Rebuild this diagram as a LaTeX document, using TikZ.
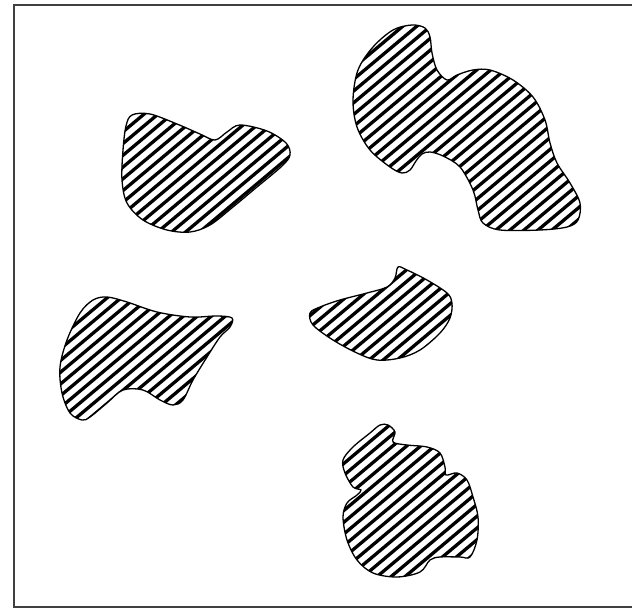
\documentclass[tikz,border=0pt]{standalone}
\begin{document}
\tikzset{
  blobedge/.style={draw=black, line width=1.3pt},
  hatchline/.style={line width=3.3pt, black},
  frame/.style={draw=black!75, line width=1.6pt}
}
\newcommand\hatchblob[1]{%
  \begin{scope}
    \clip plot[smooth cycle, tension=0.55] coordinates {#1};
    \foreach \c in {0,11.75,...,1210} \draw[hatchline] (0,\c) -- ++(700,-587.4);
  \end{scope}
  \draw[blobedge] plot[smooth cycle, tension=0.55] coordinates {#1};
}
\begin{tikzpicture}[x=1pt,y=-1pt]
\useasboundingbox (0,0) rectangle (632,610);
\clip (0,0) rectangle (632,610);
\fill[white] (0,0) rectangle (632,610);
\draw[frame] (14,5) rectangle (660,607);
% blob 1 (top left)
\hatchblob{(132,115) (150,114) (177,124) (200,134) (215,140) (227,132) (240,125) (267,131) (286,143) (290,155) (282,166) (257,187) (233,207) (210,225) (190,232) (167,230) (143,220) (127,203) (122,180) (123,150) (126,126)}
% blob 2 (top right)
\hatchblob{(412,25) (425,28) (430,37) (432,53) (437,70) (447,80) (457,75) (473,70) (490,70) (513,80) (533,97) (545,120) (550,143) (557,163) (570,183) (580,203) (578,220) (567,227) (540,230) (500,230) (483,223) (478,210) (473,190) (460,167) (443,156) (430,152) (422,154) (416,161) (410,170) (402,173) (390,167) (370,150) (357,127) (353,100) (358,70) (373,47) (393,30)}
% blob 3 (left middle)
\hatchblob{(93,300) (107,297) (127,302) (157,312) (190,317) (217,316) (232,318) (230,327) (220,337) (207,357) (193,380) (183,400) (173,405) (160,400) (143,390) (123,390) (107,403) (90,417) (82,420) (70,413) (62,393) (60,367) (67,340) (80,313)}
% blob 4 (centre)
\hatchblob{(398,267) (407,270) (427,280) (447,293) (452,303) (450,318) (440,333) (420,350) (400,358) (377,360) (357,353) (333,340) (313,325) (310,313) (320,307) (340,300) (367,293) (387,287) (395,278)}
% blob 5 (bottom)
\hatchblob{(388,425) (395,432) (393,442) (407,445) (427,447) (440,453) (445,467) (446,475) (457,473) (467,480) (473,497) (478,517) (477,540) (470,557) (460,557) (440,557) (430,560) (420,572) (397,577) (373,573) (357,560) (347,540) (343,517) (347,503) (357,495) (361,490) (353,487) (345,473) (343,460) (353,447) (370,433) (380,425)}
\end{tikzpicture}
\end{document}
